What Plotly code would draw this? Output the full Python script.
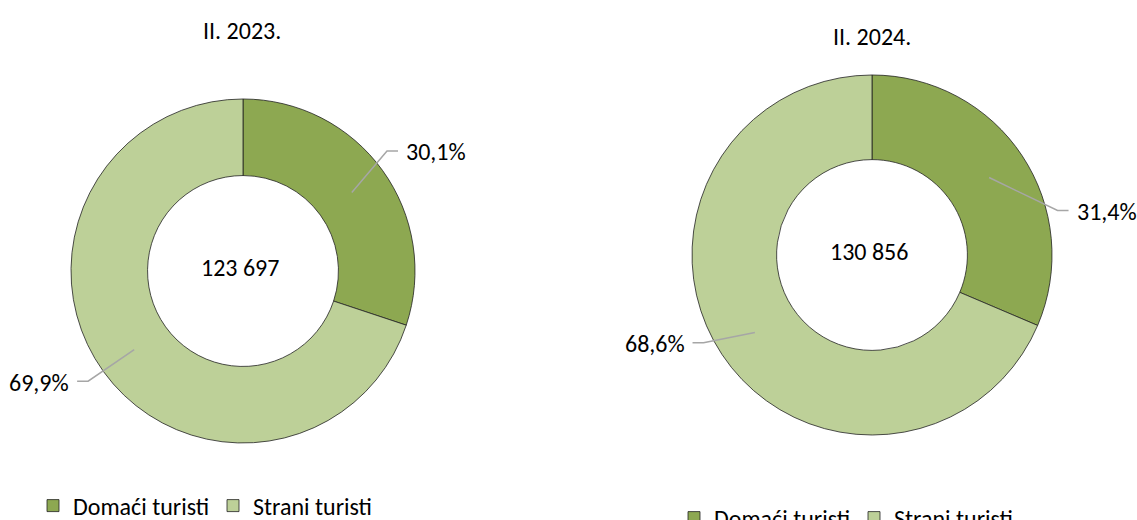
import math
import plotly.graph_objects as go

categories = ["Domaći turisti", "Strani turisti"]
titles = ["II. 2023.", "II. 2024."]
totals = ["123 697", "130 856"]
shares_2023 = [30.1, 69.9]
shares_2024 = [31.4, 68.6]
series = [shares_2023, shares_2024]

colors = ["#8DA851", "#BDD098"]
FONT = "Carlito, Calibri, Noto Sans, sans-serif"
W, H = 1137, 520


def px(x):
    return x / W


def py(y):
    return 1 - y / H


# layout of each donut in pixels: centre x, centre y, outer radius
centers = [(243, 271, 172), (872, 255, 180)]
holes = [0.555, 0.53]
title_pos = [(242, 30), (872, 37)]
# leader-line tweaks (degrees added to mid angle, elbow radius factor)
label_shift = [[-4, 0.4], [20, 6]]
elbow_r = [[1.09, 1.105], [1.06, 1.055]]

fig = go.Figure()

for i, vals in enumerate(series):
    cx, cy, r = centers[i]
    # pies sharing a label share one legend entry, so the second chart gets
    # a zero-width space appended to keep its own legend
    labels = categories if i == 0 else [c + "\u200b" for c in categories]
    fig.add_trace(
        go.Pie(
            labels=labels,
            values=vals,
            sort=False,
            direction="clockwise",
            rotation=0,
            hole=holes[i],
            textinfo="none",
            marker=dict(colors=colors, line=dict(color="#222222", width=0.8)),
            domain=dict(x=[px(cx - r), px(cx + r)], y=[py(cy + r), py(cy - r)]),
            legend="legend" if i == 0 else "legend2",
        )
    )
    fig.add_annotation(
        x=px(cx - 3), y=py(cy - 4), xref="paper", yref="paper",
        xanchor="center", yanchor="middle",
        text=totals[i], showarrow=False, font=dict(size=24, color="#000"),
    )
    tx, ty = title_pos[i]
    fig.add_annotation(
        x=px(tx), y=py(ty), xref="paper", yref="paper",
        xanchor="center", yanchor="middle",
        text=titles[i], showarrow=False, font=dict(size=24, color="#000"),
    )

    # outside labels with leader lines, placed from the slice mid-angles
    total = sum(vals)
    start = 0.0
    for j, v in enumerate(vals):
        mid = (start + v / 2) / total * 2 * math.pi
        start += v
        p0 = (cx + 0.78 * r * math.sin(mid), cy - 0.78 * r * math.cos(mid))
        a = mid + math.radians(label_shift[i][j])
        k = elbow_r[i][j]
        p1 = (cx + k * r * math.sin(a), cy - k * r * math.cos(a))
        side = 1 if math.sin(a) > 0 else -1
        p2 = (p1[0] + side * 11, p1[1])
        fig.add_shape(
            type="path",
            xref="paper", yref="paper",
            path="M {} {} L {} {} L {} {}".format(
                px(p0[0]), py(p0[1]), px(p1[0]), py(p1[1]), px(p2[0]), py(p2[1])
            ),
            line=dict(color="#A6A6A6", width=1.5),
        )
        fig.add_annotation(
            x=px(p2[0] + side * 6), y=py(p2[1] + 1),
            xref="paper", yref="paper",
            xanchor="left" if side > 0 else "right", yanchor="middle",
            text=f"{v:.1f}%".replace(".", ","),
            showarrow=False, font=dict(size=24, color="#000"),
        )

legend_common = dict(
    orientation="h",
    xanchor="left",
    yanchor="middle",
    font=dict(size=24, color="#000", family=FONT),
    bgcolor="rgba(0,0,0,0)",
    entrywidth=135,
    itemclick=False,
)

fig.update_layout(
    width=W,
    height=H,
    margin=dict(l=0, r=0, t=0, b=0, autoexpand=False),
    paper_bgcolor="white",
    plot_bgcolor="white",
    font=dict(family=FONT, color="#000"),
    showlegend=True,
    legend=dict(x=px(33), y=py(506), **legend_common),
    legend2=dict(x=px(674), y=py(518), **legend_common),
)

# drop the browser's default 8px body margin so the figure fills the window
fig.write_html(
    "out.html",
    config={"displayModeBar": False},
    post_script="document.body.style.margin='0';document.body.style.overflow='hidden';",
)
